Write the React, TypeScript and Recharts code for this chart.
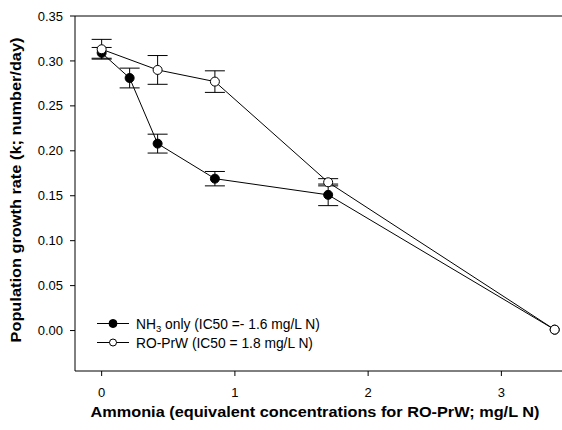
import React from 'react';
import { ComposedChart, Line, XAxis, YAxis, ErrorBar, ReferenceLine, Label } from 'recharts';

const nh3X = [0, 0.21, 0.42, 0.85, 1.7, 3.4];
const nh3Y = [0.309, 0.281, 0.208, 0.169, 0.151, 0.001];
const nh3Err = [0.006, 0.011, 0.0105, 0.008, 0.012, 0];

const roX = [0, 0.42, 0.85, 1.7, 3.4];
const roY = [0.313, 0.290, 0.277, 0.165, 0.001];
const roErr = [0.011, 0.016, 0.012, 0.004, 0];

const xTicks = [0, 1, 2, 3];
const yTicks = [0, 0.05, 0.1, 0.15, 0.2, 0.25, 0.3, 0.35];

const xTitle = 'Ammonia (equivalent concentrations for RO-PrW; mg/L N)';
const yTitle = 'Population growth rate (k; number/day)';
const legendNH3 = ['NH', '3', ' only (IC50 =- 1.6 mg/L N)'];
const legendRO = 'RO-PrW (IC50 = 1.8 mg/L N)';

const nh3Data = nh3X.map((x, i) => ({ x, y: nh3Y[i], err: nh3Err[i] }));
const roData = roX.map((x, i) => ({ x, y: roY[i], err: roErr[i] }));

const FONT = '"Liberation Sans", Arial, sans-serif';

export default function App() {
  return (
    <div style={{ position: 'absolute', left: 0, top: 0, width: 562, height: 430, overflow: 'hidden', background: '#fff', fontFamily: FONT }}>
      <ComposedChart width={568} height={430} margin={{ top: 16, right: 0, bottom: 0, left: 0 }}>
        <XAxis
          dataKey="x"
          type="number"
          domain={[-0.2, 3.5]}
          ticks={xTicks}
          allowDataOverflow
          height={59}
          stroke="#000"
          tickSize={5}
          tickMargin={12}
          tick={{ fill: '#000', fontSize: 13, fontFamily: FONT }}
          tickFormatter={(v: number) => String(v)}
        >
          <Label
            content={() => (
              <text x={315} y={417} textAnchor="middle" fontWeight="bold" fontSize={14} fontFamily={FONT} fill="#000" textLength={449} lengthAdjust="spacingAndGlyphs">
                {xTitle}
              </text>
            )}
          />
        </XAxis>
        <YAxis
          type="number"
          domain={[-0.045, 0.35]}
          ticks={yTicks}
          allowDataOverflow
          width={75}
          stroke="#000"
          tickSize={5}
          tickMargin={7}
          tick={{ fill: '#000', fontSize: 13, fontFamily: FONT }}
          tickFormatter={(v: number) => v.toFixed(2)}
        >
          <Label
            content={() => (
              <text x={16} y={190} transform="rotate(-90 16 190)" textAnchor="middle" dominantBaseline="central" fontWeight="bold" fontSize={14} fontFamily={FONT} fill="#000" textLength={305} lengthAdjust="spacingAndGlyphs">
                {yTitle}
              </text>
            )}
          />
        </YAxis>
        <ReferenceLine y={0.35} stroke="#000" strokeWidth={1} ifOverflow="extendDomain" />
        <Line
          data={nh3Data}
          dataKey="y"
          stroke="#000"
          strokeWidth={1}
          isAnimationActive={false}
          dot={{ r: 4.5, fill: '#000', stroke: '#000', strokeWidth: 1 }}
          activeDot={false}
        >
          <ErrorBar dataKey="err" width={10} stroke="#000" strokeWidth={1} direction="y" />
        </Line>
        <Line
          data={roData}
          dataKey="y"
          stroke="#000"
          strokeWidth={1}
          isAnimationActive={false}
          dot={{ r: 4.5, fill: '#fff', stroke: '#000', strokeWidth: 1 }}
          activeDot={false}
        >
          <ErrorBar dataKey="err" width={10} stroke="#000" strokeWidth={1} direction="y" />
        </Line>
      </ComposedChart>
      <svg width={562} height={430} style={{ position: 'absolute', left: 0, top: 0, pointerEvents: 'none' }}>
        <g fontFamily={FONT} fontSize={13.8} fill="#000">
          <line x1={97} y1={323.5} x2={129} y2={323.5} stroke="#000" strokeWidth={1} />
          <circle cx={113} cy={323.5} r={4} fill="#000" stroke="#000" />
          <text x={136} y={328.5}>
            {legendNH3[0]}
            <tspan fontSize={9.5} dy={3}>{legendNH3[1]}</tspan>
            <tspan dy={-3}>{legendNH3[2]}</tspan>
          </text>
          <line x1={97} y1={342.5} x2={129} y2={342.5} stroke="#000" strokeWidth={1} />
          <circle cx={113} cy={342.5} r={3.5} fill="#fff" stroke="#000" />
          <text x={136} y={347.5}>{legendRO}</text>
        </g>
      </svg>
    </div>
  );
}
